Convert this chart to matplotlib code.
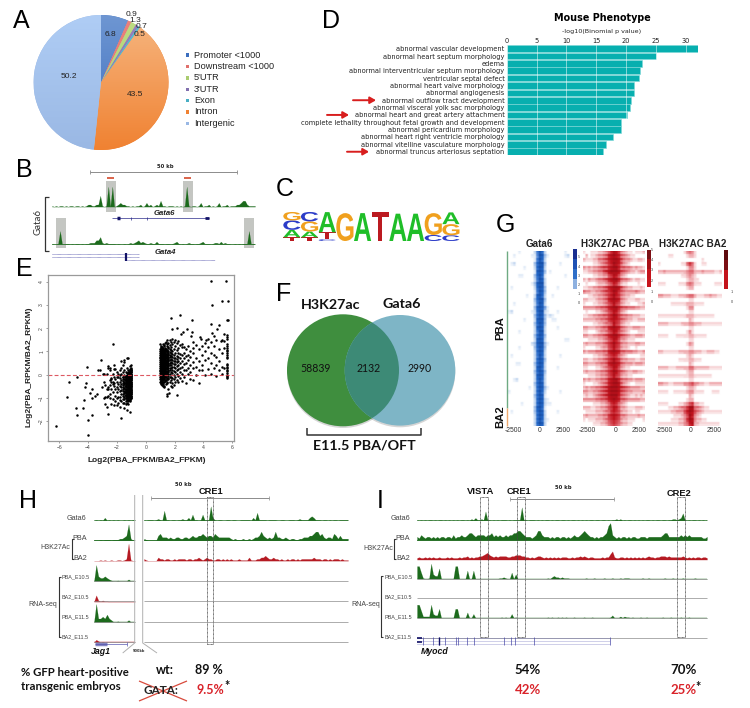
import numpy as np
import matplotlib
matplotlib.use('Agg')
import matplotlib.pyplot as plt
from matplotlib.colors import LinearSegmentedColormap
from matplotlib.font_manager import FontProperties
from matplotlib.patches import Circle, PathPatch, Rectangle
from matplotlib.textpath import TextPath
from matplotlib.transforms import Affine2D

plt.rcParams['font.family'] = ['Liberation Sans', 'DejaVu Sans']

W, H = 750, 708

# A: peak annotation
pie_labels = ['Promoter <1000', 'Downstream <1000', "5'UTR", "3'UTR", 'Exon', 'Intron', 'Intergenic']
pie_values = [6.8, 0.9, 1.3, 0.7, 0.5, 43.5, 50.2]
pie_top = ['#6e96d2', '#eb827d', '#bedc82', '#9682be', '#5abed2', '#f6b680', '#afcdf5']
pie_bottom = ['#3c6ebe', '#e0706c', '#aacc70', '#8270ae', '#48aec4', '#f08232', '#9ab8e4']

# D: mouse phenotype
pheno_terms = ['abnormal vascular development', 'abnormal heart septum morphology', 'edema',
               'abnormal interventricular septum morphology', 'ventricular septal defect',
               'abnormal heart valve morphology', 'abnormal angiogenesis',
               'abnormal outflow tract development', 'abnormal visceral yolk sac morphology',
               'abnormal heart and great artery attachment',
               'complete lethality throughout fetal growth and development',
               'abnormal pericardium morphology', 'abnormal heart right ventricle morphology',
               'abnormal vitelline vasculature morphology', 'abnormal truncus arteriosus septation']
pheno_values = [32.0, 25.0, 22.7, 22.3, 22.2, 21.4, 21.4, 20.8, 20.7, 20.1, 19.1, 19.1, 17.8, 16.7, 16.1]

# C: motif logo, letters from bottom to top with heights in bits
logo_letters = ['TACG', 'TAGC', 'CTA', 'G', 'A', 'T', 'A', 'A', 'CG', 'CGA']
logo_bits = [[0.26, 0.52, 0.66, 0.59], [0.26, 0.40, 0.71, 0.66], [0.12, 0.49, 1.41], [1.95], [1.95],
             [2.0], [1.91], [1.91], [0.42, 1.53], [0.40, 0.78, 0.82]]

# E: scatter, sparse points and then columns of y values
sparse_x = [-6.25, -5.35, -5.45, -4.85, -4.8, -4.75, -4.35, -4.2, -4.25, -4.0, -4.0, -4.05, -4.15,
            -3.85, -3.75, -3.75, -3.7, -3.55, -3.4, -3.3, -3.2, -3.1, -3.05, -3.0,
            4.55, 5.55, 4.6, 5.3, 5.7, 5.65, 5.68, 1.75, 2.35, 3.2, 1.8, 2.2, 2.85, 3.2, 4.55, 5.1, 4.95,
            1.45, 1.6, 2.2, 2.45, 2.6, 3.15, 3.3, 3.75, 3.85, 4.2, 4.35, 4.6, 4.75, 5.2, 5.4, 1.5, 1.85]
sparse_y = [-2.2, -0.3, -0.97, -1.42, -1.72, -0.1, -1.42, -0.55, -1.08, -1.97, -2.6, 0.35, -0.35,
            -0.78, -1.75, -0.62, -1.0, -0.9, -0.85, 0.18, 0.18, 0.62, -0.55, 0.05,
            4.05, 4.05, 3.0, 3.15, 3.17, 2.35, 2.37, 2.45, 2.58, 2.35, 1.95, 2.0, 1.97, 1.85, 2.2, 2.15, 1.95,
            -0.9, -0.78, -0.88, 1.75, 1.85, 1.68, 1.4, 1.6, 1.52, 1.48, 1.55, 1.8, 1.65, 1.45, 1.75, -0.85, -0.55]
col_x = [-2.9, -2.8, -2.7, -2.6, -2.5, -2.4, -2.3, -2.2, -2.1, -2.0, -1.9, -1.8, -1.7, -1.6, -1.5, -1.4,
         -1.3, -1.2, -1.1, -1.0,
         1.0, 1.06, 1.12, 1.18, 1.25, 1.32, 1.4, 1.48, 1.56, 1.65, 1.75, 1.85, 1.95, 2.05, 2.15, 2.25,
         2.35, 2.5, 2.65, 2.8, 2.95, 3.1, 3.3, 3.5, 3.7, 3.9, 4.1, 4.3, 4.5, 4.7, 4.9, 5.1, 5.3, 5.45, 5.65]
col_y = [
    [-1.0, -0.3, 0.05], [-1.25, -0.98, -0.45], [-1.4, -0.6, -0.97, 0.02],
    [-1.7, -0.9, -0.55, -0.62, 0.38, 0.28], [-1.0, -0.85, -0.45, -0.25, 0.2, 0.3],
    [-1.25, -0.6, -0.3, -0.15, -0.2], [-1.05, -0.75, -0.42, -0.32, 0.05, 1.33],
    [-1.3, -0.5, -0.35, -0.1, 0.25, 0.4], [-1.15, -0.9, -0.6, -0.2, 0.25],
    [-1.3, -1.0, -0.75, -0.52, -0.3, -0.1, 0.1], [-1.2, -0.95, -0.62, -0.42, -0.1, 0.05],
    [-1.38, -1.1, -0.95, -0.7, -0.48, -0.3, -0.15, -0.02, 0.22],
    [-1.85, -1.15, -0.85, -0.65, -0.55, -0.4, -0.22, 0.02, 0.3, 0.6],
    [-1.2, -1.05, -0.9, -0.72, -0.55, -0.35, -0.2, -0.08, 0.12, 0.4],
    [-1.45, -1.2, -1.05, -0.95, -0.8, -0.7, -0.58, -0.42, -0.3, -0.18, 0.0, 0.2, 0.55, 0.62],
    [-1.25, -1.15, -1.0, -0.88, -0.75, -0.65, -0.52, -0.45, -0.35, -0.25, -0.15, -0.05, 0.1],
    [-1.5, -1.2, -1.1, -1.02, -0.92, -0.82, -0.72, -0.62, -0.52, -0.42, -0.32, -0.22, -0.12, -0.02, 0.08, 0.3, 0.7],
    [-1.25, -1.12, -1.0, -0.9, -0.8, -0.7, -0.6, -0.5, -0.4, -0.3, -0.2, -0.1, 0.0, 0.1, 0.2, 0.72],
    [-1.6, -1.15, -1.05, -0.95, -0.85, -0.75, -0.65, -0.55, -0.45, -0.35, -0.25, -0.15, -0.05, 0.05, 0.15, 0.25, 0.38],
    [-1.0, -0.9, -0.8, -0.7, -0.6, -0.5, -0.4, -0.3, -0.2, -0.1, 0.0, 0.1, 0.2, 0.3, 0.4],
    [-0.3, -0.2, -0.12, -0.03, 0.06, 0.14, 0.22, 0.3, 0.38, 0.46, 0.54, 0.62, 0.7, 0.78, 0.86, 0.94, 1.02, 1.1, 1.3],
    [-0.42, -0.28, -0.16, -0.06, 0.03, 0.12, 0.2, 0.28, 0.36, 0.44, 0.52, 0.6, 0.68, 0.76, 0.84, 0.92, 1.0, 1.08, 1.18],
    [-0.35, -0.22, -0.1, 0.0, 0.08, 0.16, 0.25, 0.33, 0.41, 0.5, 0.58, 0.66, 0.74, 0.82, 0.9, 0.98, 1.06, 1.2],
    [-0.5, -0.3, -0.18, -0.08, 0.04, 0.13, 0.21, 0.3, 0.39, 0.47, 0.55, 0.63, 0.72, 0.8, 0.88, 0.96, 1.05, 1.14, 1.34],
    [-0.55, -0.33, -0.2, -0.05, 0.06, 0.15, 0.24, 0.32, 0.43, 0.51, 0.6, 0.69, 0.77, 0.85, 0.95, 1.04, 1.25],
    [-0.28, -0.12, 0.02, 0.1, 0.19, 0.28, 0.37, 0.46, 0.56, 0.65, 0.75, 0.84, 0.93, 1.02, 1.1, 1.38],
    [-0.42, -0.25, -0.1, 0.05, 0.16, 0.3, 0.41, 0.5, 0.6, 0.7, 0.78, 0.9, 1.0, 1.12, 1.42],
    [-0.38, -0.18, 0.0, 0.12, 0.25, 0.35, 0.48, 0.57, 0.68, 0.8, 0.88, 1.0, 1.25, 1.5],
    [-0.6, -0.2, -0.05, 0.1, 0.22, 0.36, 0.44, 0.58, 0.66, 0.76, 0.9, 1.02, 1.15, 1.35],
    [-0.3, -0.12, 0.05, 0.18, 0.3, 0.42, 0.52, 0.64, 0.74, 0.86, 0.98, 1.1, 1.28, 1.5],
    [-0.5, -0.25, -0.08, 0.12, 0.28, 0.4, 0.55, 0.68, 0.8, 0.92, 1.05, 1.2, 1.42],
    [-0.35, -0.15, 0.06, 0.2, 0.35, 0.5, 0.62, 0.75, 0.88, 1.0, 1.3, 1.52],
    [-0.45, -0.2, 0.0, 0.15, 0.32, 0.48, 0.6, 0.72, 0.85, 1.1, 1.4],
    [-0.3, -0.1, 0.12, 0.28, 0.44, 0.58, 0.7, 0.95, 1.22, 1.48],
    [-0.25, 0.02, 0.18, 0.38, 0.55, 0.68, 0.82, 1.05, 1.38],
    [-0.32, -0.05, 0.25, 0.42, 0.6, 0.78, 0.92, 1.15, 1.45],
    [-0.15, 0.1, 0.3, 0.52, 0.72, 0.9, 1.28],
    [-0.28, 0.05, 0.35, 0.6, 0.85, 1.18, 1.3],
    [-0.1, 0.18, 0.45, 0.7, 0.92, 1.2], [-0.35, 0.22, 0.5, 0.8, 1.1], [0.05, 0.3, 0.62, 0.85, 1.25],
    [-0.2, 0.12, 0.42, 0.75, 1.02], [-0.25, 0.28, 0.55, 0.92, 1.15], [0.0, 0.35, 0.7, 1.28],
    [-0.35, 0.2, 0.6, 1.1], [0.18, 0.4, 0.85, 1.25], [0.0, 0.62, 1.02, 1.35], [0.25, 0.72, 1.2],
    [0.05, 0.5, 0.95, 1.4], [0.3, 0.85, 1.25], [-0.05, 0.42, 0.75, 1.5], [0.2, 0.6, 1.1],
    [0.02, 0.35, 0.95, 1.5], [0.28, 1.15, 1.45],
    [-0.15, -0.1, -0.05, 0.0, 0.08, 0.15, 0.2, 0.28, 0.35, 0.42, 0.48, 0.72, 0.78, 0.85, 0.92, 1.0, 1.08,
     1.15, 1.22, 1.3, 1.55, 1.62, 1.72],
]
# second pass over the parts of the clusters that print solid black
dense_x = [-1.05, -1.15, -1.25, -1.35, -1.45, -1.55, -1.03, -1.08, -1.18,
           1.03, 1.09, 1.15, 1.22, 1.28, 1.36, 1.44, 1.52]
dense_y = [
    [-1.02, -0.92, -0.83, -0.74, -0.66, -0.57, -0.48, -0.39, -0.31, -0.22, -0.13, -0.04, 0.04, 0.12, 0.22],
    [-1.08, -0.98, -0.88, -0.78, -0.68, -0.58, -0.48, -0.38, -0.28, -0.18, -0.08, 0.02, 0.12],
    [-1.05, -0.95, -0.85, -0.75, -0.65, -0.56, -0.46, -0.36, -0.27, -0.16, -0.06, 0.03],
    [-1.0, -0.9, -0.8, -0.7, -0.6, -0.48, -0.38, -0.28, -0.18, -0.07],
    [-0.88, -0.75, -0.62, -0.5, -0.36, -0.24, -0.12],
    [-0.82, -0.63, -0.46, -0.28, -0.1],
    [-0.95, -0.85, -0.75, -0.65, -0.55, -0.45, -0.35, -0.25, -0.15, -0.05, 0.05, 0.15, 0.25],
    [-1.1, -0.98, -0.88, -0.78, -0.68, -0.58, -0.49, -0.4, -0.3, -0.2, -0.1, 0.0, 0.1, 0.2],
    [-0.93, -0.83, -0.73, -0.63, -0.53, -0.43, -0.33, -0.23, -0.13, -0.03, 0.07],
    [-0.38, -0.26, -0.16, -0.08, 0.0, 0.1, 0.18, 0.26, 0.34, 0.42, 0.5, 0.58, 0.66, 0.74, 0.82, 0.9, 0.98, 1.06, 1.16],
    [-0.33, -0.24, -0.14, -0.04, 0.05, 0.14, 0.23, 0.31, 0.4, 0.48, 0.56, 0.64, 0.72, 0.8, 0.88, 0.96, 1.04, 1.22],
    [-0.45, -0.3, -0.19, -0.09, 0.01, 0.1, 0.18, 0.27, 0.35, 0.44, 0.52, 0.61, 0.7, 0.78, 0.86, 0.95, 1.03, 1.12],
    [-0.4, -0.25, -0.14, -0.02, 0.08, 0.17, 0.26, 0.35, 0.45, 0.53, 0.62, 0.71, 0.79, 0.88, 0.97, 1.06],
    [-0.48, -0.15, -0.03, 0.07, 0.17, 0.3, 0.4, 0.49, 0.58, 0.67, 0.76, 0.86, 0.94, 1.08, 1.28],
    [-0.22, -0.06, 0.06, 0.15, 0.24, 0.33, 0.44, 0.54, 0.62, 0.72, 0.81, 0.9, 1.0, 1.16],
    [-0.3, -0.14, 0.03, 0.12, 0.28, 0.38, 0.46, 0.55, 0.64, 0.74, 0.83, 0.96, 1.08, 1.3],
    [-0.15, 0.04, 0.17, 0.3, 0.41, 0.52, 0.62, 0.73, 0.84, 0.95, 1.2],
]

# F: venn
venn_counts = ['58839', '2132', '2990']

# G: heatmaps, one digit per bin (0 empty, 9 saturated), top row first
gata6_rows = """0000100000 26972 0000000100
0010000001 15983 1000000120
0000000000 16972 0000000000
0120000000 37993 0000010000
0000001000 27982 0000000000
0000000000 18983 0100000000
0000110000 37971 0000000100
0000000000 26982 0000000000
0000000001 38992 0000000000
0100000000 27983 0000100000
0000000000 16983 0000000000
0000000100 28972 0010000000
0000000000 37993 0000000000
0010000000 26982 0000000000
0000000000 38984 1000000000
1200000001 27992 1000100000
0000000000 37983 1210000000
0000001000 28993 0011000000
0000000000 37983 0000000000
0000000000 28982 0000100000
0000100000 26992 0000000000
0000000000 37983 0000000000
0000000000 28982 0000000110
0000000002 38993 1000000000
0000100000 37983 0000000000
0000000000 27982 0000000000
0100000000 26972 0000010000
0000000000 27983 0000000000
0001100000 37982 0000000000
0000000000 28972 0000100000
0000000000 37983 0000000000
0000000000 28982 0000000000
0012000000 27972 0000000000
0000000000 37982 0000000000
0000000010 27983 1000000000
1000000000 27972 0000010000
0000000000 37981 0000000000
0000000000 27982 1000000000
0000010000 27982 1100000000
0000000000 38971 0000000000
0100000000 37982 0000100000
0000000000 27982 0000000000
0000000000 27972 1000000000
0000000000 27982 0000000000""".split('\n')

pba_rows = """1001112234 57986 4321101112
0201123345 78987 5432110000
2111224456 78998 6433211221
0000112345 67987 5321000000
3232334566 78997 5544323221
1122334467 89998 6543221233
0000112233 56875 3210000000
2132234456 78997 5443212211
0100012223 45764 2110000100
1122334456 78998 6432211121
4332233456 67986 5433334322
0011223345 67976 4322110000
2211123345 78987 4321112211
1000112234 56865 3211000112
3333344556 78997 6554443322
0100011234 56875 3210000000
1122334455 67986 5443322211
2222233445 67876 5432211222
0000112234 45865 3211000000
3322233455 78987 5432233322
1100012334 56875 4321000111
3322334456 78997 6543223332
0011112234 56875 3321110000
2322233345 67976 4332223322
1000011233 56865 3221001000
3233344455 78987 5544433223
0000112234 56764 3210000011
2211223345 67976 4332221122
3322233445 78987 5433323332
1100011234 56875 3211000000
2322233445 67986 5432233221
0011122334 56865 3221100000
3232233445 78997 5443323332
1000112345 78998 5321001111
2323344567 89998 7654333322
3322334567 89998 6543322223
1211234567 89997 5432112121
3333344556 78987 5543333322
0000111223 46764 3210000000
2221122334 56875 3321112221
0111122234 46765 3221101100
2322223344 67876 4432222322
1011122234 56765 3221110001
0000111223 45654 3221100000""".split('\n')

ba2_rows = """0000000000 13431 0000000000
0000110000 01221 0000000000
0000000000 00000 0010000000
1000000001 14641 0011000000
0000000000 01331 0000000000
2232222222 23442 2232222112
0000000001 12321 0000000000
0000000000 01221 1000000000
1110000011 13431 1100000111
0000000000 01220 0000000000
0000000000 00000 0000000000
3322211122 23442 1112232211
0000000000 00110 0000000000
0000011111 12221 1110000000
0000000000 01330 0000000000
0000000000 00110 0000000000
1111111111 12221 1111111000
0000000000 00210 0000000000
2222111112 22332 2211111111
0000000000 00110 0000000000
0000000000 01310 0000000000
1111000111 11221 1111000000
0000000000 00110 0000000000
0000000000 01320 0000000000
0000000000 00110 0000000000
2211111122 22332 2211222110
0000000000 01210 0000000000
0000000011 11221 1100000000
0000000000 00210 0000000000
2222111222 22442 2222211111
0000000000 01220 0000000000
1111111111 11221 1111110000
0000000000 00110 0000000000
3322112222 33453 3221122222
0000000000 01221 0000000000
1111001111 12331 1110001110
0000000000 00210 0000000000
0000000000 01220 0000000000
1111000011 23562 2110000000
0000112234 46994 4321100000
1111122333 57985 4321111111
0000001112 35973 2100000000
0000011122 36983 2211000000
1111111122 34782 2111111110""".split('\n')

# tracks: one digit per 2 px bin along the genome window
b_gata6 = '1010110101 1011010122 1122610190 9012322110 1011201312 0121411011 1010101910 1101301120 1013011201 1122344211 11'
b_gata4 = '1001900110 1011010112 2244621211 1101001012 1234232112 1131110110 1231010121 1011231110 1221312110 0101011190 11'

h_gata6_left = '01010301010100101011'
h_pba_left = '00010111011122349200'
h_ba2_left = '00010100100110129100'
h_rna_left = ['09433432100100002000', '09313110000000000000', '09334353200100002000', '05302010000000000000']
h_gata6_right = '1011101210 7110110112 1131511015 1119310110 0110110011 1110316111 1011110011 0011101211 1134311101 1010110111 11'
h_pba_right = '2100000453 3323223322 3323433445 4344354333 3332121112 1121233464 3232363322 3212211223 3344566453 2332542422 22'
h_ba2_right = '2100000322 1221121222 2122122321 2322112212 1212111211 1131112233 4322322121 1212212122 2222322212 2121222121 11'

i_gata6 = ('1010101101 0110101010 1011010213 1121711010 1011101011 1191101110 1010110101 1011010110 1010101101 '
           '1011010112 1201011010 1010110101 1011011221 2361010110 10101')
i_pba = ('3243233232 3233233242 3343345543 4444344534 3433434455 6654333234 6643332323 3233232343 3456543323 '
         '2334589432 3233232332 2333233333 3345533333 3434343333 33223')
i_ba2 = ('3433434343 3433343433 3434453434 4556786545 4555544556 6655443434 5543434343 4344433434 4545434433 '
         '3343447943 3443434343 4343454434 4555454444 4454343434 43443')
i_rna_e105 = ('8851001943 3700000008 8000060060 0000000000 0112100504 0000000000 0000010232 2121110000 0000100010 '
              '0001000100 0101110000 0010010000 0001000100 0010000010 00000')
i_rna_e115 = ('9962222943 3700000007 7000050040 0000000000 0010100401 0000000000 0000010100 1010100010 0001000100 '
              '0000001300 0202110100 0100100000 0010001000 0100010000 00000')
myocd_exons = [3, 8, 11, 14, 19.5, 20.3, 25, 28.7, 43.5, 47, 49, 58.5, 96.5]

rna_names = ['PBA_E10.5', 'BA2_E10.5', 'PBA_E11.5', 'BA2_E11.5']

GREEN = '#1c6a1c'
RED = '#b51a22'
GREY = '#8c8c8c'
DARK = '#333333'

fig = plt.figure(figsize=(W / 100, H / 100), dpi=100)


def ax_px(x0, y0, x1, y1, **kw):
    return fig.add_axes([x0 / W, 1 - y1 / H, (x1 - x0) / W, (y1 - y0) / H], **kw)


under = ax_px(0, 0, W, H, zorder=-1)
under.set_xlim(0, W)
under.set_ylim(H, 0)
under.axis('off')

ov = ax_px(0, 0, W, H, zorder=20)
ov.set_xlim(0, W)
ov.set_ylim(H, 0)
ov.axis('off')
ov.patch.set_alpha(0)


def txt(x, y, s, size, ha='center', va='center', **kw):
    ov.text(x, y, s, fontsize=size, ha=ha, va=va, **kw)


def line(xs, ys, color=GREY, lw=0.7, **kw):
    ov.plot(xs, ys, color=color, lw=lw, solid_capstyle='butt', **kw)


def bracket(x, y0, y1, tick=2.0, color=DARK, lw=0.8):
    line([x + tick, x, x, x + tick], [y0, y0, y1, y1], color=color, lw=lw)


def track(s, x0, x1, base, height, color, lw=0.6):
    vals = np.array([int(c) for c in s.replace(' ', '')], dtype=float)
    a = ax_px(x0, base - height, x1, base + 0.5)
    a.set_xlim(0, len(vals) - 1)
    a.set_ylim(-0.03, 1)
    a.axis('off')
    a.fill_between(np.arange(len(vals)), (vals / 9) ** 1.5, color=color, lw=0.1)
    a.axhline(0, color=color, lw=lw)


# panel letters
for letter, x, y in [('A', 21, 21), ('B', 24, 170), ('C', 285, 189), ('D', 331, 21), ('E', 24, 269),
                     ('F', 284, 294), ('G', 505, 225), ('H', 28, 501), ('I', 380, 501)]:
    txt(x, y, letter, 18)

# A: pie with a vertical shading per wedge
ax = ax_px(33.5, 15, 168.5, 150)
wedges, _ = ax.pie(pie_values, startangle=90, counterclock=False, radius=1, colors=pie_bottom,
                   wedgeprops={'linewidth': 0})
ax.set_xlim(-1, 1)
ax.set_ylim(-1, 1)
for w, c0, c1 in zip(wedges, pie_top, pie_bottom):
    cm = LinearSegmentedColormap.from_list('s', [c0, c1])
    im = ax.imshow(np.linspace(0, 1, 64)[:, None], cmap=cm, extent=(-1, 1, -1, 1), aspect='auto', zorder=2)
    im.set_clip_path(w)
ax.set_xlim(-1, 1)
ax.set_ylim(-1, 1)
pie_text_pos = [(110, 34), (132, 15), (135, 21), (141, 27), (140, 34), (135, 94), (69, 77)]
for v, (x, y) in zip(pie_values, pie_text_pos):
    txt(x, y, str(v), 6, color='#222222')
for i, (name, c) in enumerate(zip(pie_labels, pie_bottom)):
    y = 55 + i * 11.4
    ov.add_patch(Rectangle((186, y - 1.6), 3.4, 3.4, color=c, lw=0))
    txt(194, y, name, 6.6, ha='left', color='#222222')

# D: bars
ax = ax_px(506.7, 45, 697.7, 155.4)
ypos = np.arange(len(pheno_terms))
ax.barh(ypos, pheno_values, height=0.9, color='#07afaf', edgecolor='#7fd8d8', linewidth=0.4)
ax.set_xlim(0, 32)
ax.set_ylim(len(pheno_terms) - 0.5, -0.5)
ax.xaxis.tick_top()
ax.set_xticks(range(0, 31, 5))
ax.set_yticks(ypos)
ax.set_yticklabels(pheno_terms, family='DejaVu Sans', fontsize=4.75, color='#222222')
ax.tick_params(axis='both', length=0, pad=1.5)
ax.tick_params(axis='x', labelsize=4.8, labelcolor='#222222', pad=0.5)
for lab in ax.get_xticklabels():
    lab.set_family('DejaVu Sans')
ax.set_axisbelow(False)
ax.grid(axis='x', color='white', lw=0.5, alpha=0.7)
for s in ax.spines.values():
    s.set_visible(False)
txt(602, 18, 'Mouse Phenotype', 6.9, family='DejaVu Sans', weight='bold')
txt(602, 31, '-log10(Binomial p value)', 4.6, family='DejaVu Sans', color='#222222')
for x0, x1, row in [(353, 376, 7), (327, 349, 9), (347, 369, 14)]:
    ov.annotate('', xy=(x1, 48.7 + row * 7.36), xytext=(x0, 48.7 + row * 7.36),
                arrowprops=dict(arrowstyle='-|>,head_width=0.2,head_length=0.35', color='#d81e1e', lw=1.4,
                                shrinkA=0, shrinkB=0))

# B: tracks
for x0, x1, y0, y1 in [(106, 116, 181, 212), (183, 193, 181, 212), (56, 66, 218, 248), (244, 254, 218, 248)]:
    under.add_patch(Rectangle((x0, y0), x1 - x0, y1 - y0, color='#c4c6c2', lw=0))
for x0, x1 in [(107, 114), (184, 191)]:
    line([x0, x1], [178, 178], color='#d8573c', lw=1.3)
track(b_gata6, 52, 255, 206.7, 20, GREEN, lw=0.5)
track(b_gata4, 52, 255, 244, 13, GREEN, lw=0.5)
line([90, 237], [172, 172], lw=0.7)
line([90, 90], [170, 174], lw=0.6)
line([237, 237], [170, 174], lw=0.6)
txt(165, 167, '50 kb', 3.8, family='DejaVu Sans', weight='bold', color='#222222')
txt(38, 222, 'Gata6', 7, rotation=90, family='Lato', color='#333333')
bracket(45, 197, 251, tick=4, lw=0.9)
txt(164, 213.5, 'Gata6', 5.6, weight='bold', style='italic', color='#222222')
txt(165, 253, 'Gata4', 5.6, weight='bold', style='italic', color='#222222')
line([112, 209], [218, 218], color='#2a2a8a', lw=0.5)
line([117, 120], [218, 218], color='#111166', lw=2.5)
line([131, 131], [216.5, 219.5], color='#2a2a8a', lw=0.5)
line([147, 147], [216.5, 219.5], color='#2a2a8a', lw=0.5)
line([205, 209], [218, 218], color='#111166', lw=2)
for x0, x1, y in [(52, 139, 253.5), (52, 139, 256.5), (126, 215, 260)]:
    line([x0, x1], [y, y], color='#5a5ab0', lw=0.5, ls=(0, (1, 0.6)))
line([126, 126], [253, 261], color='#111166', lw=1.6)

# C: logo
fp = FontProperties(family='Liberation Sans', weight='bold')
logo_col = {'A': '#1fbe28', 'C': '#2c3cc8', 'G': '#f0a01e', 'T': '#bb1a20'}
col_w = 17.67
for i, (letters, bits) in enumerate(zip(logo_letters, logo_bits)):
    bottom = 241.0
    for ch, b in zip(letters, bits):
        h = b * 14.3
        path = TextPath((0, 0), ch, size=10, prop=fp)
        bb = path.get_extents()
        tr = (Affine2D().translate(-bb.x0, -bb.y0).scale((col_w - 0.5) / bb.width, -h / bb.height)
              .translate(283.3 + i * col_w, bottom) + ov.transData)
        ov.add_patch(PathPatch(path, transform=tr, color=logo_col[ch], lw=0))
        bottom -= h

# E: scatter
ax = ax_px(48.3, 275, 234.3, 441)
ax.scatter(sparse_x, sparse_y, s=3.2, color='black', linewidths=0)
for x, ys in zip(col_x + dense_x, col_y + dense_y):
    ax.scatter([x] * len(ys), ys, s=3.2, color='black', linewidths=0)
ax.axhline(0, color='#d83c46', lw=0.8, ls=(0, (3.5, 2)), alpha=0.85)
ax.set_xlim(-6.76, 6.14)
ax.set_ylim(-2.855, 4.29)
ax.set_xticks(range(-6, 7, 2))
ax.set_yticks(range(-2, 5))
ax.tick_params(labelsize=3.6, length=1.5, width=0.4, pad=1.5, color='#555555', labelcolor='#444444')
plt.setp(ax.get_yticklabels(), rotation=90, va='center')
for s in ax.spines.values():
    s.set_color('#9a9a9a')
    s.set_linewidth(0.9)
txt(147, 461, 'Log2(PBA_FPKM/BA2_FPKM)', 6, weight='bold', color='#222222')
txt(29, 367, 'Log2(PBA_RPKM/BA2_RPKM)', 6, weight='bold', rotation=90, color='#222222')

# F: venn
under.add_patch(Circle((343, 372), 56, color='#888888', alpha=0.35, lw=0))
under.add_patch(Circle((400, 372), 55.3, color='#888888', alpha=0.35, lw=0))
left = Circle((343, 370.3), 56, color='#3f8e3e', lw=0, zorder=2)
right = Circle((400, 370.3), 55.3, color='#7eb5c6', lw=0, zorder=2)
both = Circle((400, 370.3), 55.3, color='#3d8a76', lw=0, zorder=3)
for c in (left, right, both):
    ov.add_patch(c)
both.set_clip_path(Circle((343, 370.3), 56, transform=ov.transData))
for x, s in zip([316, 368.7, 420], venn_counts):
    txt(x, 369, s, 7.6, family='Lato', color='#111111', zorder=5)
txt(331, 305, 'H3K27ac', 10.3, family='Lato', weight='bold', color='#111111')
txt(402, 303.5, 'Gata6', 10.3, family='Lato', weight='bold', color='#111111')
line([307, 307, 421, 421], [428, 434.5, 434.5, 428], color='#333333', lw=1.1)
txt(364.5, 446, 'E11.5 PBA/OFT', 10.3, family='Lato', weight='bold', color='#111111')

# G: heatmaps, every read row printed as a thin streak over a fainter one
blue_cm = LinearSegmentedColormap.from_list('b', ['#ffffff', '#bcd2ee', '#5a8cd8', '#2266c6', '#174fa8'])
red_cm = LinearSegmentedColormap.from_list('r', ['#ffffff', '#eda0a5', '#d8505a', '#c2141e', '#a00d16'])
for rows, cm, (x0, x1), title, tx, ticks in [
        (gata6_rows, blue_cm, (507.7, 571.7), 'Gata6', 539, (513, 540, 563)),
        (pba_rows, red_cm, (583, 645), 'H3K27AC PBA', 615, (587, 616, 639)),
        (ba2_rows, red_cm, (658, 722), 'H3K27AC BA2', 693, (664, 691, 714))]:
    m = np.array([[int(c) for c in r.replace(' ', '')] for r in rows], dtype=float)
    streak = np.zeros((m.shape[0] * 2, m.shape[1]))
    streak[::2] = m
    streak[1::2] = m * 0.6
    streak[1::2, 10:15] = m[:, 10:15] * 0.85
    a = ax_px(x0, 250.7, x1, 426)
    a.imshow(streak, cmap=cm, vmin=0, vmax=9, aspect='auto', interpolation='hanning')
    a.axis('off')
    txt(tx, 244, title, 7.1, weight='bold', color='#222222')
    for x, lab in zip(ticks, ['-2500', '0', '2500']):
        txt(x, 430, lab, 4.9, color='#333333')
line([507, 507], [251, 408], color='#6eaa82', lw=1.0)
line([507, 507], [408, 426], color='#f0aa6e', lw=1.0)
txt(500, 328, 'PBA', 8.2, weight='bold', rotation=90, color='#111111')
txt(500, 417, 'BA2', 8.2, weight='bold', rotation=90, color='#111111')
for (x0, x1, y0, y1), cols in [((573, 577, 249, 289), ['#1a2f90', '#1f52b4', '#2f6fc8', '#8eb1e0']),
                               ((647, 651, 250, 287), ['#7c0f14', '#a81017', '#c4131b', '#c8141c']),
                               ((724, 727.5, 250, 289), ['#5e0a0e', '#7c0f14', '#c4131b', '#c4131b'])]:
    step = (y1 - y0) / len(cols)
    for k, c in enumerate(cols):
        ov.add_patch(Rectangle((x0, y0 + k * step), x1 - x0, step, color=c, lw=0))
for x, ys in [(579, (257, 266.7, 276, 285, 294, 303)), (652, (250, 260, 270, 281, 292, 302))]:
    for lab, y in zip('543210', ys):
        txt(x, y, lab, 2.8, color='#444444')
for lab, y in [('1', 292), ('0', 302)]:
    txt(732, y, lab, 2.8, color='#444444')

# H: tracks
y_gata6, y_pba, y_ba2 = 520.3, 540.3, 560.7
y_rna = [581, 601.3, 622, 642]
track(h_gata6_left, 94, 135, y_gata6, 14, GREEN, lw=0.4)
track(h_gata6_right, 144, 348, y_gata6, 14, GREEN, lw=0.4)
track(h_pba_left, 94, 135, y_pba, 16, GREEN)
track(h_pba_right, 144, 348, y_pba, 16, GREEN)
track(h_ba2_left, 94, 135, y_ba2, 17, RED)
track(h_ba2_right, 144, 348, y_ba2, 17, RED)
for s, y, hh, c in zip(h_rna_left, y_rna, [16, 6, 18, 6], [GREEN, RED, GREEN, RED]):
    track(s, 94, 135, y, hh, c, lw=0.3)
    line([94, 135], [y, y], lw=0.5)
    line([144, 348], [y, y], lw=0.5)
line([134.7, 134.7, 122.7], [495, 643, 653], color='#b0b0b0', lw=0.7)
line([142.7, 142.7, 157], [495, 643, 653], color='#b0b0b0', lw=0.7)
txt(139, 651, '500kb', 2.6, family='DejaVu Sans', weight='bold', color='#333333')
ov.add_patch(Rectangle((206.7, 497), 6.6, 146.7, fill=False, ec='#444444', lw=0.6, ls=(0, (1, 0.6))))
txt(210.7, 491.7, 'CRE1', 6.7, weight='bold', color='#111111')
line([150.7, 269.3], [498, 498])
line([150.7, 150.7], [496, 500], lw=0.5)
line([269.3, 269.3], [496, 500], lw=0.5)
txt(183.7, 485, '50 kb', 3.8, family='DejaVu Sans', weight='bold', color='#222222')
txt(86.7, 519, 'Gata6', 5.2, ha='right', color='#444444')
txt(87, 539, 'PBA', 5.2, ha='right', color='#444444')
txt(87, 558, 'BA2', 5.2, ha='right', color='#444444')
txt(70.7, 547.7, 'H3K27Ac', 5, ha='right', color='#444444')
bracket(72, 539, 559)
txt(57, 604, 'RNA-seq', 5, ha='right', color='#444444')
bracket(58.7, 576.7, 637)
for name, y in zip(rna_names, [577, 597, 617, 637]):
    txt(62, y, name, 3.9, ha='left', color='#444444')
txt(101, 651, 'Jag1', 6.3, weight='bold', style='italic', color='#111111')
line([95, 127], [644, 644], color='#5a5ab0', lw=0.5)
line([95, 107], [644, 644], color='#5050a8', lw=2.5, alpha=0.7)
line([127, 127], [642, 646], color='#5a5ab0', lw=0.5)
txt(21, 672.7, '% GFP heart-positive', 8.2, ha='left', family='Lato', weight='bold', color='#111111')
txt(21, 686, 'transgenic embryos', 8.2, ha='left', family='Lato', weight='bold', color='#111111')
txt(165, 670, 'wt:', 9, family='Lato', weight='bold', color='#111111')
txt(209, 670, '89 %', 9, family='Lato', weight='bold', color='#111111')
txt(160.5, 690.7, 'GATA:', 8.5, family='Lato', weight='bold', color='#222222')
line([139, 187], [681, 701], color='#d84a3c', lw=0.9)
line([139, 187], [701, 681], color='#d84a3c', lw=0.9)
txt(210, 690, '9.5%', 9, family='Lato', weight='bold', color='#d9232a')
txt(227, 686, '*', 9, family='Lato', weight='bold', color='#111111')

# I: tracks
i_base = [578.7, 598.3, 617.7, 637.7]
track(i_gata6, 417, 707, 520.3, 13, GREEN, lw=0.4)
track(i_pba, 417, 707, 540, 17, GREEN)
track(i_ba2, 417, 707, 559.3, 8, RED)
track(i_rna_e105, 417, 707, i_base[0], 15, GREEN, lw=0.3)
track(i_rna_e115, 417, 707, i_base[2], 13, GREEN, lw=0.3)
for y in i_base:
    line([417, 707], [y, y], lw=0.5)
for x0, x1 in [(480.3, 487.7), (516.7, 524.7), (677.3, 684.7)]:
    ov.add_patch(Rectangle((x0, 497.3), x1 - x0, 139.4, fill=False, ec='#444444', lw=0.6, ls=(0, (1, 0.6))))
txt(481, 491.3, 'VISTA', 6.8, weight='bold', color='#111111')
txt(519.3, 492, 'CRE1', 6.7, weight='bold', color='#111111')
txt(679.3, 493, 'CRE2', 6.7, weight='bold', color='#111111')
line([510, 613.7], [499, 499])
line([510, 510], [497, 501], lw=0.5)
line([613.7, 613.7], [497, 501], lw=0.5)
txt(563.3, 487.5, '50 kb', 3.8, family='DejaVu Sans', weight='bold', color='#222222')
txt(410, 519, 'Gata6', 5.2, ha='right', color='#444444')
txt(410, 539, 'PBA', 5.2, ha='right', color='#444444')
txt(410, 558, 'BA2', 5.2, ha='right', color='#444444')
txt(393, 548, 'H3K27Ac', 5, ha='right', color='#444444')
bracket(394.3, 539, 559)
txt(380, 604, 'RNA-seq', 5, ha='right', color='#444444')
bracket(381, 576, 637)
for name, y in zip(rna_names, [577, 597, 617, 637]):
    txt(384.5, y, name, 3.9, ha='left', color='#444444')
for y in (638, 641, 644):
    line([417, 610], [y, y], color='#6a6ab8', lw=0.4, ls=(0, (1, 0.8)))
for b in myocd_exons:
    x = 417 + b * 2
    line([x, x], [637, 645], color='#4a4aa8', lw=0.5)
line([417, 422], [638, 638], color='#111166', lw=1.2)
line([417, 422], [642, 642], color='#111166', lw=1.2)
line([439, 439], [637, 645], color='#111166', lw=1.0)
txt(435, 651.7, 'Myocd', 6.3, weight='bold', style='italic', color='#111111')
txt(528, 670, '54%', 9.5, family='Lato', weight='bold', color='#111111')
txt(528.5, 690, '42%', 9.5, family='Lato', weight='bold', color='#d9232a')
txt(684, 670, '70%', 9.5, family='Lato', weight='bold', color='#111111')
txt(683.3, 690, '25%', 9.5, family='Lato', weight='bold', color='#d9232a')
txt(698, 687, '*', 9, family='Lato', weight='bold', color='#111111')

fig.savefig('out.png', dpi=100)
